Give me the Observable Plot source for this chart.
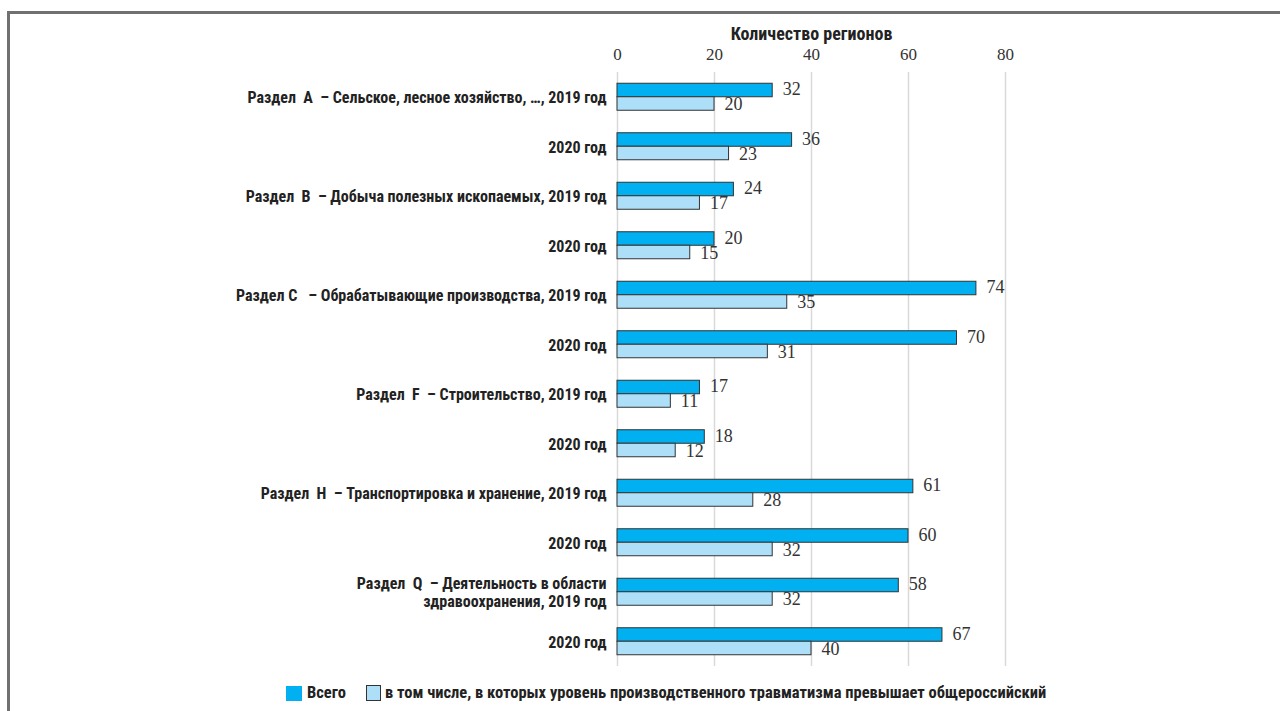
<!DOCTYPE html>
<html><head><meta charset="utf-8">
<script src="https://cdn.jsdelivr.net/npm/d3@7"></script>
<script src="https://cdn.jsdelivr.net/npm/@observablehq/plot@0.6"></script>
<style>
body{margin:0;background:#fff;width:1280px;height:711px;overflow:hidden;position:relative;}
#frame{position:absolute;left:7px;top:11px;width:1290px;height:720px;border-top:3px solid #707070;border-left:3px solid #707070;}
#chart{position:absolute;left:0;top:0;}
#legend{position:absolute;left:286px;top:683px;font-family:"Roboto Condensed","DejaVu Sans Condensed",sans-serif;font-weight:bold;font-size:16.5px;color:#222;display:flex;align-items:center;white-space:nowrap;line-height:20px;}
.sw{display:inline-block;width:16px;height:15px;margin-right:5px;box-sizing:border-box;}
</style></head>
<body>
<div id="frame"></div>
<div id="chart"></div>
<div id="legend"><span class="sw" style="background:#00b0f0"></span><span>Всего</span><span style="width:20px;display:inline-block"></span><span class="sw" style="background:#addff8;border:1px solid #333;width:15px;height:16px;margin-right:4px"></span><span>в том числе, в которых уровень производственного травматизма превышает общероссийский</span></div>
<script>
const NB = "\u00a0";
const labels = [
  "Раздел" + NB + NB + "A" + NB + NB + "– Сельское, лесное хозяйство, …, 2019 год",
  "2020 год",
  "Раздел" + NB + NB + "B" + NB + NB + "– Добыча полезных ископаемых, 2019 год",
  "2020 год",
  "Раздел" + NB + "C" + NB + NB + NB + "– Обрабатывающие производства, 2019 год",
  "2020 год",
  "Раздел" + NB + NB + "F" + NB + NB + "– Строительство, 2019 год",
  "2020 год",
  "Раздел" + NB + NB + "H" + NB + NB + "– Транспортировка и хранение, 2019 год",
  "2020 год",
  "Раздел" + NB + NB + "Q" + NB + NB + "– Деятельность в области\nздравоохранения, 2019 год",
  "2020 год"
];
const total = [32, 36, 24, 20, 74, 70, 17, 18, 61, 60, 58, 67];
const exceed = [20, 23, 17, 15, 35, 31, 11, 12, 28, 32, 32, 40];
const xTicks = [0, 20, 40, 60, 80];
const seriesNames = ["Всего", "в том числе, в которых уровень производственного травматизма превышает общероссийский"];

const idx = labels.map((_, i) => i);
const rowsTotal = idx.map(i => ({i, v: total[i]}));
const rowsExc = idx.map(i => ({i, v: exceed[i]}));

const sansFont = '"Roboto Condensed","DejaVu Sans Condensed",sans-serif';
const serifFont = '"Liberation Serif","DejaVu Serif",serif';
const half = 13.5;

const chart = Plot.plot({
  width: 1280,
  height: 680,
  marginLeft: 617,
  marginRight: 275,
  marginTop: 72,
  marginBottom: 14,
  style: {background: "transparent", overflow: "visible"},
  x: {domain: [0, 80], ticks: xTicks, label: null},
  y: {domain: idx, paddingInner: 0.4545, paddingOuter: 0.2273, round: false, label: null},
  marks: [
    Plot.gridX(xTicks, {stroke: "#d9d9d9", strokeOpacity: 1, strokeWidth: 1.5}),
    Plot.axisX({anchor: "top", ticks: xTicks, tickSize: 0, tickPadding: 13, fontSize: 17, fontFamily: serifFont, fill: "#333", label: null}),
    Plot.text(["Количество регионов"], {frameAnchor: "top", dy: -45, fontSize: 18, fontFamily: sansFont, fontWeight: "bold", fill: "#222"}),
    Plot.axisY({tickSize: 0, tickPadding: 11, tickFormat: i => labels[i], fontSize: 16, fontFamily: sansFont, fontWeight: "bold", fill: "#222", lineHeight: 1.15}),
    Plot.barX(rowsTotal, {x: "v", y: "i", fill: "#00b0f0", stroke: "#333", strokeWidth: 1, insetBottom: half}),
    Plot.barX(rowsExc, {x: "v", y: "i", fill: "#addff8", stroke: "#333", strokeWidth: 1, insetTop: half}),
    Plot.text(rowsTotal, {x: "v", y: "i", text: d => String(d.v), dx: 10, dy: -8, textAnchor: "start", fontSize: 18, fontFamily: serifFont, fill: "#333"}),
    Plot.text(rowsExc, {x: "v", y: "i", text: d => String(d.v), dx: 10, dy: 7, textAnchor: "start", fontSize: 18, fontFamily: serifFont, fill: "#333"})
  ]
});
document.getElementById("chart").appendChild(chart);
</script>
</body></html>
